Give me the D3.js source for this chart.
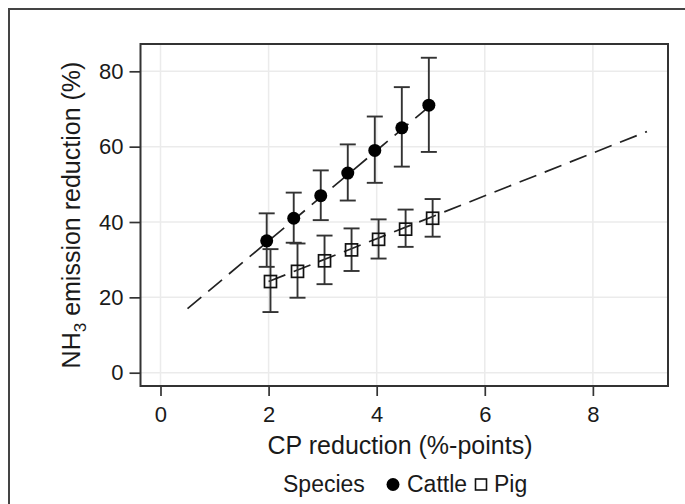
<!DOCTYPE html>
<html>
<head>
<meta charset="utf-8">
<script src="https://cdn.jsdelivr.net/npm/d3@7"></script>
<style>
  html, body { margin: 0; padding: 0; background: #fff; }
  svg { display: block; }
  text { font-family: "Liberation Sans", Arial, Helvetica, sans-serif; fill: #1a1a1a; }
</style>
</head>
<body>
<svg id="chart" width="685" height="504"></svg>
<script>
// ---- Data ----
const cpLevels = [2, 2.5, 3, 3.5, 4, 4.5, 5];
const cattleMean  = [35, 41, 47, 53, 59, 65, 71];
const cattleLower = [28.1, 34.5, 40.5, 45.7, 50.4, 54.7, 58.6];
const cattleUpper = [42.3, 47.8, 53.7, 60.6, 68.0, 75.8, 83.6];
const pigMean  = [24.2, 26.9, 29.7, 32.6, 35.4, 38.1, 41.0];
const pigLower = [16.1, 19.9, 23.5, 27.0, 30.3, 33.4, 36.1];
const pigUpper = [32.8, 34.3, 36.4, 38.3, 40.7, 43.3, 46.1];
// fitted (dashed) lines: [x, y] end points
const cattleFitX = [0.5, 5];
const cattleFitY = [17, 71];
const pigFitX = [2, 9];
const pigFitY = [24.2, 64];
const xTicks = [0, 2, 4, 6, 8];
const yTicks = [0, 20, 40, 60, 80];
const species = ["Cattle", "Pig"];
const xTitle = "CP reduction (%-points)";

// ---- Layout ----
const svg = d3.select("#chart");
const panel = { left: 140.5, right: 668, top: 44, bottom: 386 };

const x = d3.scaleLinear().domain([-0.37, 9.39]).range([panel.left, panel.right]);
const y = d3.scaleLinear().domain([-3.53, 87.25]).range([panel.bottom, panel.top]);

// outer frame
svg.append("rect")
  .attr("x", 9).attr("y", 9).attr("width", 700).attr("height", 520)
  .attr("fill", "none").attr("stroke", "#444").attr("stroke-width", 2);

// grid
const grid = svg.append("g");
grid.selectAll("line.gx").data(xTicks).join("line")
  .attr("x1", d => x(d)).attr("x2", d => x(d))
  .attr("y1", panel.top).attr("y2", panel.bottom)
  .attr("stroke", "#ebebeb").attr("stroke-width", 1.5);
grid.selectAll("line.gy").data(yTicks).join("line")
  .attr("y1", d => y(d)).attr("y2", d => y(d))
  .attr("x1", panel.left).attr("x2", panel.right)
  .attr("stroke", "#ebebeb").attr("stroke-width", 1.5);

// axes
const xAxis = svg.append("g")
  .attr("transform", `translate(0,${panel.bottom})`)
  .call(d3.axisBottom(x).tickValues(xTicks).tickSize(10).tickPadding(10).tickFormat(d3.format("d")));
const yAxis = svg.append("g")
  .attr("transform", `translate(${panel.left},0)`)
  .call(d3.axisLeft(y).tickValues(yTicks).tickSize(11).tickPadding(6).tickFormat(d3.format("d")));
[xAxis, yAxis].forEach(a => {
  a.select(".domain").remove();
  a.selectAll(".tick line").attr("stroke", "#333").attr("stroke-width", 1.7);
  a.selectAll(".tick text").attr("font-size", 22).attr("fill", "#1a1a1a")
    .attr("font-family", "Liberation Sans, Arial, sans-serif");
});

// fit lines
const line = d3.line().x(d => x(d[0])).y(d => y(d[1]));
const cattleFit = cattleFitX.map((v, i) => [v, cattleFitY[i]]);
const pigFit = pigFitX.map((v, i) => [v, pigFitY[i]]);
[cattleFit, pigFit].forEach(pts => {
  svg.append("path").attr("d", line(pts))
    .attr("fill", "none").attr("stroke", "#222").attr("stroke-width", 1.7)
    .attr("stroke-dasharray", "18,9");
});

// error bars & points
const dodge = 0.035;
const cap = 8;
function drawSeries(mean, lower, upper, off, kind) {
  const g = svg.append("g");
  cpLevels.forEach((cx, i) => {
    const px = x(cx + off);
    g.append("line").attr("x1", px).attr("x2", px)
      .attr("y1", y(lower[i])).attr("y2", y(upper[i]))
      .attr("stroke", "#333").attr("stroke-width", 1.9);
    [lower[i], upper[i]].forEach(v => {
      g.append("line").attr("x1", px - cap).attr("x2", px + cap)
        .attr("y1", y(v)).attr("y2", y(v))
        .attr("stroke", "#333").attr("stroke-width", 1.9);
    });
  });
  cpLevels.forEach((cx, i) => {
    const px = x(cx + off), py = y(mean[i]);
    if (kind === "circle") {
      g.append("circle").attr("cx", px).attr("cy", py).attr("r", 6.5).attr("fill", "#000");
    } else {
      g.append("rect").attr("x", px - 6).attr("y", py - 6).attr("width", 12).attr("height", 12)
        .attr("fill", "none").attr("stroke", "#111").attr("stroke-width", 1.7);
    }
  });
}
drawSeries(cattleMean, cattleLower, cattleUpper, -dodge, "circle");
drawSeries(pigMean, pigLower, pigUpper, dodge, "square");

// panel border
svg.append("rect")
  .attr("x", panel.left).attr("y", panel.top)
  .attr("width", panel.right - panel.left).attr("height", panel.bottom - panel.top)
  .attr("fill", "none").attr("stroke", "#333").attr("stroke-width", 2);

// axis titles
svg.append("text").attr("x", 400).attr("y", 454).attr("text-anchor", "middle")
  .attr("font-size", 25).text(xTitle);

const yt = svg.append("text")
  .attr("transform", `translate(80,${(panel.top + panel.bottom) / 2}) rotate(-90)`)
  .attr("text-anchor", "middle").attr("font-size", 25);
yt.append("tspan").text("NH");
yt.append("tspan").attr("font-size", 17).attr("dy", 6).text("3");
yt.append("tspan").attr("dy", -6).text(" emission reduction (%)");

// legend
const lg = svg.append("g");
lg.append("text").attr("x", 283).attr("y", 492).attr("font-size", 23).text("Species");
lg.append("circle").attr("cx", 393).attr("cy", 484.5).attr("r", 6.5).attr("fill", "#000");
lg.append("text").attr("x", 407).attr("y", 492).attr("font-size", 23).text(species[0]);
lg.append("rect").attr("x", 475.5).attr("y", 479).attr("width", 11).attr("height", 11)
  .attr("fill", "none").attr("stroke", "#111").attr("stroke-width", 1.6);
lg.append("text").attr("x", 494).attr("y", 492).attr("font-size", 23).text(species[1]);
</script>
</body>
</html>
